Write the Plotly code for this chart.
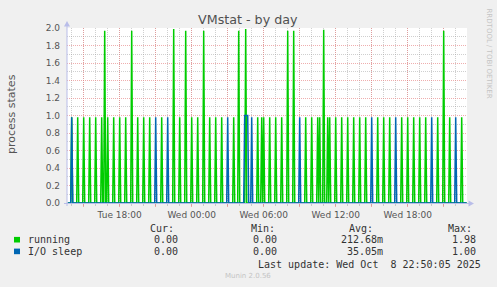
import pandas as pd
import plotly.graph_objects as go

# ---------------- data ----------------
sample_start = "2025-10-07 13:40"
sample_end = "2025-10-08 22:55"
view_start = "2025-10-07 13:36:30"
view_end = "2025-10-08 22:56:30"

running_times = [
    "2025-10-07 14:00", "2025-10-07 14:30", "2025-10-07 15:00", "2025-10-07 15:30",
    "2025-10-07 16:00", "2025-10-07 16:30", "2025-10-07 16:45", "2025-10-07 17:00",
    "2025-10-07 17:30", "2025-10-07 18:00", "2025-10-07 18:30", "2025-10-07 19:00",
    "2025-10-07 19:30", "2025-10-07 20:00", "2025-10-07 20:30", "2025-10-07 21:30",
    "2025-10-07 22:30", "2025-10-07 23:00", "2025-10-07 23:30",
    "2025-10-08 00:00", "2025-10-08 00:30", "2025-10-08 01:00", "2025-10-08 01:30",
    "2025-10-08 02:00", "2025-10-08 02:30", "2025-10-08 03:30", "2025-10-08 03:55",
    "2025-10-08 04:30", "2025-10-08 05:30", "2025-10-08 05:50", "2025-10-08 06:00",
    "2025-10-08 06:30", "2025-10-08 07:00", "2025-10-08 07:30", "2025-10-08 08:00",
    "2025-10-08 08:30", "2025-10-08 09:30", "2025-10-08 10:00", "2025-10-08 10:30",
    "2025-10-08 10:40", "2025-10-08 11:00", "2025-10-08 11:20", "2025-10-08 11:30",
    "2025-10-08 12:00", "2025-10-08 12:30", "2025-10-08 13:00", "2025-10-08 13:30",
    "2025-10-08 14:00", "2025-10-08 14:30", "2025-10-08 15:30", "2025-10-08 16:00",
    "2025-10-08 16:30", "2025-10-08 17:30", "2025-10-08 18:00", "2025-10-08 18:30",
    "2025-10-08 19:00", "2025-10-08 19:30", "2025-10-08 20:30", "2025-10-08 21:00",
    "2025-10-08 21:30", "2025-10-08 22:30",
]
running_values = [
    0.98, 0.98, 0.98, 0.98,
    0.98, 0.98, 1.97, 0.98,
    0.98, 0.98, 0.98, 1.97,
    0.98, 0.98, 0.98, 0.98,
    1.99, 0.98, 1.97,
    0.98, 0.98, 1.97, 0.98,
    0.98, 0.98, 0.98, 1.97,
    1.99, 0.98, 0.98, 0.98,
    0.98, 0.98, 0.98, 1.97,
    1.97, 0.98, 0.98, 0.98,
    0.98, 1.98, 0.98, 0.98,
    0.98, 0.98, 0.98, 0.98,
    0.98, 0.98, 0.98, 0.98,
    0.98, 0.98, 0.98, 0.98,
    0.98, 0.98, 0.98, 1.97,
    0.98, 0.98,
]

iosleep_times = [
    "2025-10-07 14:00", "2025-10-07 21:00", "2025-10-07 22:00",
    "2025-10-08 03:00", "2025-10-08 04:25", "2025-10-08 04:30", "2025-10-08 04:35",
    "2025-10-08 04:40", "2025-10-08 05:00", "2025-10-08 09:00", "2025-10-08 15:00",
    "2025-10-08 17:00", "2025-10-08 20:00", "2025-10-08 22:00",
]
iosleep_values = [
    0.98, 0.98, 0.98,
    0.98, 1.00, 1.00, 1.00,
    1.00, 0.98, 0.98, 0.98,
    0.98, 0.98, 0.98,
]

tick_times = [
    "2025-10-07 15:00", "2025-10-07 18:00", "2025-10-07 21:00", "2025-10-08 00:00",
    "2025-10-08 03:00", "2025-10-08 06:00", "2025-10-08 09:00", "2025-10-08 12:00",
    "2025-10-08 15:00", "2025-10-08 18:00", "2025-10-08 21:00",
]
tick_labels = ["", "Tue 18:00", "", "Wed 00:00", "", "Wed 06:00", "",
               "Wed 12:00", "", "Wed 18:00", ""]

series_names = ["running", "I/O sleep"]
series_colors = ["#00CC00", "#0066B3"]
stat_cur = ["0.00", "0.00"]
stat_min = ["0.00", "0.00"]
stat_avg = ["212.68m", "35.05m"]
stat_max = ["1.98", "1.00"]

title_text = "VMstat - by day"
ylabel_text = "process states"
last_update = "Last update: Wed Oct\u00a0\u00a08 22:50:05 2025"
footer_text = "Munin 2.0.56"
side_text = "RRDTOOL / TOBI OETIKER"

# ---------------- build series ----------------
grid = pd.date_range(sample_start, sample_end, freq="5min")


def build(times, values):
    s = pd.Series(0.0, index=grid)
    for t, v in zip(times, values):
        s[pd.Timestamp(t)] = v
    return s


running = build(running_times, running_values)
iosleep = build(iosleep_times, iosleep_values)

W, H = 497, 287
ML, MR, MT, MB = 67, 30, 28, 84
PW = W - ML - MR
PH = H - MT - MB


def fx(px):
    return (px - ML) / PW


def fy(py):
    return (H - MB - py) / PH


fig = go.Figure()
for s, name, col in zip([running, iosleep], series_names, series_colors):
    fig.add_trace(go.Scatter(x=s.index, y=s.values, mode="lines", name=name,
                             line=dict(color=col, width=1.5), hoverinfo="skip"))

RED = "rgba(230,130,130,0.65)"
GRAY = "rgba(160,160,160,0.5)"
AX = "#b9bde9"
TICKFONT = dict(family="DejaVu Sans", size=9, color="#555555")

fig.update_layout(
    width=W, height=H,
    margin=dict(l=ML, r=MR, t=MT, b=MB, pad=0),
    paper_bgcolor="#F0F0F0", plot_bgcolor="#FFFFFF",
    showlegend=False,
    xaxis=dict(
        type="date", range=[view_start, view_end],
        tickmode="array", tickvals=tick_times, ticktext=tick_labels,
        showgrid=True, gridcolor=RED, griddash="1px,1px", gridwidth=1,
        ticks="outside", ticklen=3, tickcolor=RED, tickfont=TICKFONT,
        minor=dict(dtick=3600000, tick0="2025-10-07 00:00", showgrid=True,
                   gridcolor=GRAY, griddash="1px,1px", ticks="outside",
                   ticklen=2, tickcolor=GRAY),
        showline=False, zeroline=False, fixedrange=True,
    ),
    yaxis=dict(
        range=[0, 2.0], tick0=0, dtick=0.2, tickformat=".1f",
        showgrid=True, gridcolor=RED, griddash="1px,1px", gridwidth=1,
        ticks="", tickfont=TICKFONT, ticklabelstandoff=6,
        minor=dict(dtick=0.1, showgrid=True, gridcolor=GRAY, griddash="1px,1px"),
        showline=False, zeroline=False, fixedrange=True,
    ),
)

shapes = []
# axes with arrows
shapes.append(dict(type="line", xref="paper", yref="paper", x0=fx(67), x1=fx(67),
                   y0=fy(206), y1=fy(24), line=dict(color=AX, width=1), layer="above"))
shapes.append(dict(type="path", xref="paper", yref="paper",
                   path=f"M {fx(64)} {fy(26.5)} L {fx(70)} {fy(26.5)} L {fx(67)} {fy(21)} Z",
                   fillcolor=AX, line=dict(width=0), layer="above"))
shapes.append(dict(type="line", xref="paper", yref="paper", x0=fx(64), x1=fx(469),
                   y0=fy(203.5), y1=fy(203.5), line=dict(color=AX, width=1), layer="above"))
shapes.append(dict(type="path", xref="paper", yref="paper",
                   path=f"M {fx(468.5)} {fy(200.5)} L {fx(468.5)} {fy(206.5)} L {fx(474)} {fy(203.5)} Z",
                   fillcolor=AX, line=dict(width=0), layer="above"))
# legend boxes
for i, col in enumerate(series_colors):
    yc = 239.7 + i * 11.7
    shapes.append(dict(type="rect", xref="paper", yref="paper", x0=fx(14), x1=fx(20),
                       y0=fy(yc + 2.8), y1=fy(yc - 2.8), fillcolor=col, line=dict(width=0)))
fig.update_layout(shapes=shapes)

MONO = dict(family="DejaVu Sans Mono", size=10, color="#333333")
ann = []


def text(x, y, s, font, xanchor="left", angle=0):
    ann.append(dict(x=fx(x), y=fy(y), xref="paper", yref="paper", text=s, showarrow=False,
                    xanchor=xanchor, yanchor="middle", font=font, textangle=angle,
                    borderpad=0))


text(248, 20, title_text, dict(family="DejaVu Sans", size=12.7, color="#505050"), "center")
text(11, 114, ylabel_text, dict(family="DejaVu Sans", size=11, color="#555555"), "center", -90)
text(488.5, 53, side_text, dict(family="DejaVu Sans", size=7, color="#c4c4c4"), "center", 90)
text(248, 276, footer_text, dict(family="DejaVu Sans", size=7, color="#c4c4c4"), "center")

for lbl, xl in zip(["Cur:", "Min:", "Avg:", "Max:"], [149.3, 249.8, 348.0, 446.7]):
    text(xl, 228.3, lbl, MONO)
for i, name in enumerate(series_names):
    yc = 239.7 + i * 11.7
    text(26.7, yc, name, MONO)
    text(178.7, yc, stat_cur[i], MONO, "right")
    text(278.3, yc, stat_min[i], MONO, "right")
    text(384.3, yc, stat_avg[i], MONO, "right")
    text(476.7, yc, stat_max[i], MONO, "right")
text(481.7, 264, last_update, MONO, "right")

fig.update_layout(annotations=ann)
fig.write_html("out.html")
